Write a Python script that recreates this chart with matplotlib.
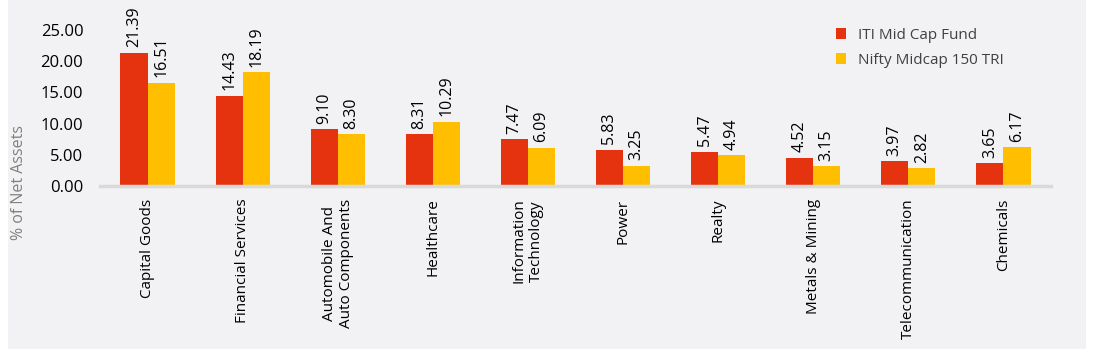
import matplotlib.pyplot as plt
import matplotlib.patches as mpatches
import numpy as np

plt.rcParams['font.family'] = ['Open Sans', 'DejaVu Sans']

sectores = ["Capital Goods", "Financial Services", "Automobile And\nAuto Components",
            "Healthcare", "Information\nTechnology", "Power", "Realty",
            "Metals & Mining", "Telecommunication", "Chemicals"]
fondo = [21.39, 14.43, 9.10, 8.31, 7.47, 5.83, 5.47, 4.52, 3.97, 3.65]
indice = [16.51, 18.19, 8.30, 10.29, 6.09, 3.25, 4.94, 3.15, 2.82, 6.17]
serie_nombres = ["ITI Mid Cap Fund", "Nifty Midcap 150 TRI"]
y_ticks = [0, 5, 10, 15, 20, 25]

rojo = "#E5330F"
amarillo = "#FFBF00"

fig = plt.figure(figsize=(11, 3.59), dpi=100, facecolor="white")
# panel gris de fondo
fig.patches.append(mpatches.Rectangle((8 / 1100, 10 / 359), 1078 / 1100, 349 / 359,
                                      transform=fig.transFigure, facecolor="#F2F2F4",
                                      edgecolor="none", zorder=-5))

ax = fig.add_axes([100 / 1100, 1 - 186 / 359, 951 / 1100, 156 / 359])
ax.set_facecolor("none")
ax.set_zorder(2)

x = np.arange(len(sectores))
w = 0.285
b1 = ax.bar(x - w / 2, fondo, w, color=rojo, label=serie_nombres[0], zorder=2)
b2 = ax.bar(x + w / 2, indice, w, color=amarillo, label=serie_nombres[1], zorder=2)

for barras in (b1, b2):
    for r in barras:
        ax.annotate(f"{r.get_height():.2f}", (r.get_x() + r.get_width() / 2, r.get_height()),
                    xytext=(0, 4), textcoords="offset points", rotation=90,
                    ha="center", va="bottom", fontsize=11.5, color="black",
                    annotation_clip=False)

ax.set_xlim(-0.5, 9.5)
ax.set_ylim(0, 25)
ax.set_yticks(y_ticks)
ax.set_yticklabels([f"{v:.2f}" for v in y_ticks], fontsize=12, color="black")
ax.set_xticks(x)
ax.set_xticklabels(sectores, rotation=90, fontsize=11, color="black",
                   ha="center", va="top", multialignment="center")
ax.tick_params(axis="both", length=0)
ax.tick_params(axis="x", pad=9)
ax.tick_params(axis="y", pad=12)

for s in ["top", "right", "left"]:
    ax.spines[s].set_visible(False)
ax.spines["bottom"].set_color("#D9D9D9")
ax.spines["bottom"].set_linewidth(2.5)

fig.text(19 / 1100, 1 - 183 / 359, "% of Net Assets", rotation=90, ha="center",
         va="center", fontsize=11.5, color="#808080", zorder=3)

leg = ax.legend(loc="upper left", bbox_to_anchor=(822 / 1100, 1 - 14 / 359),
                bbox_transform=fig.transFigure, frameon=False, fontsize=11,
                handlelength=0.7, handleheight=0.7, handletextpad=0.75,
                labelspacing=0.65, labelcolor="#404040")

fig.savefig("out.png", dpi=100, facecolor="white")
